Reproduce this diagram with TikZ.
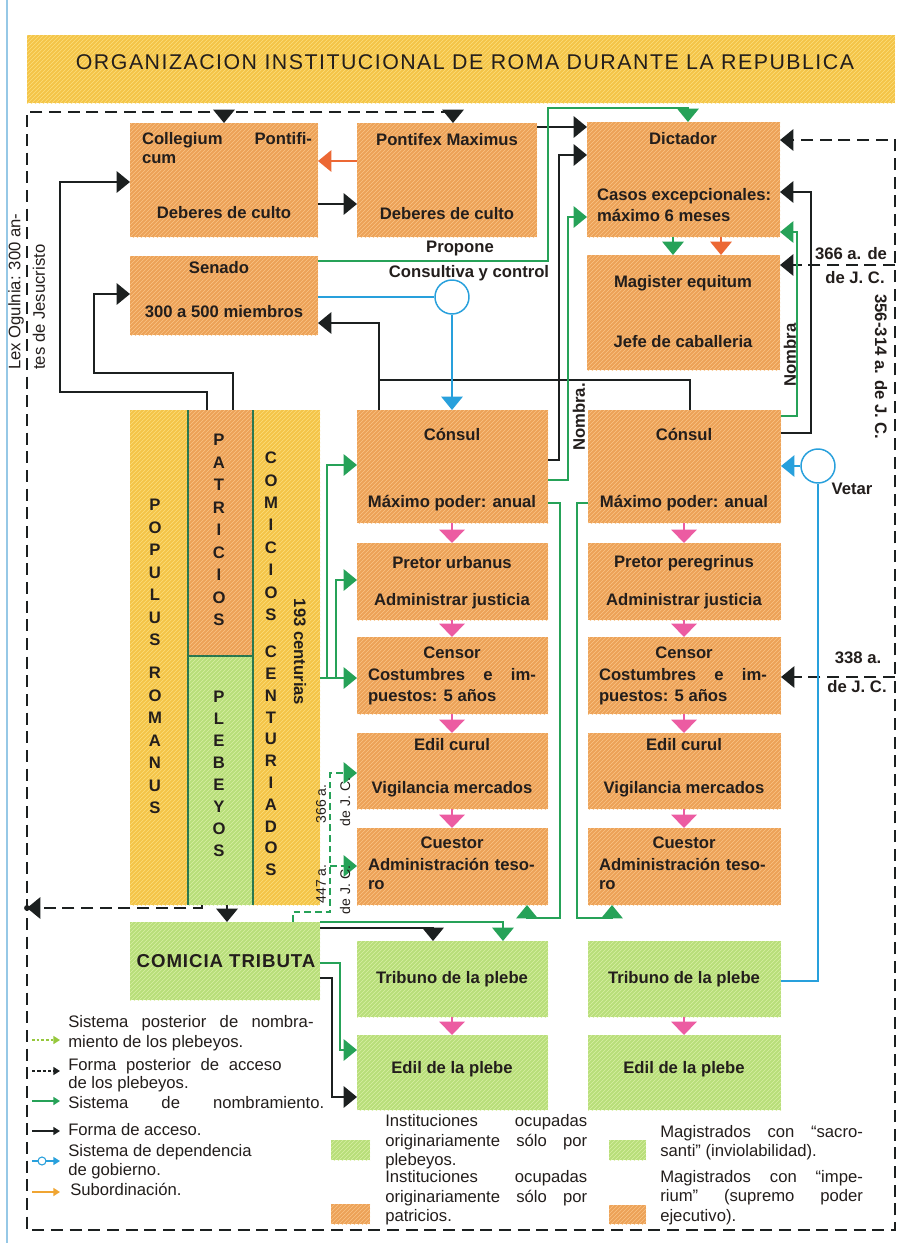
\documentclass[tikz,border=0pt]{standalone}
\usepackage{fontspec}
\setmainfont{Liberation Sans}
\usetikzlibrary{arrows.meta,patterns,fit}
\definecolor{cOr}{RGB}{236,162,88}
\definecolor{cOrH}{RGB}{250,196,134}
\definecolor{cYe}{RGB}{244,196,72}
\definecolor{cYeH}{RGB}{252,222,124}
\definecolor{cGr}{RGB}{184,222,122}
\definecolor{cGrH}{RGB}{216,240,164}
\definecolor{cBk}{RGB}{28,32,32}
\definecolor{cLn}{RGB}{38,162,88}
\definecolor{cYg}{RGB}{150,200,60}
\definecolor{cBl}{RGB}{40,160,220}
\definecolor{cPk}{RGB}{236,92,162}
\definecolor{cOa}{RGB}{236,104,52}
\definecolor{cLeg}{RGB}{240,165,50}
\definecolor{cEdge}{RGB}{150,200,230}
\definecolor{cDg}{RGB}{40,120,80}
\definecolor{cTx}{RGB}{35,30,28}
\begin{document}
\begin{tikzpicture}[x=0.75pt,y=-0.75pt,
  >={Triangle[width=16pt,length=10pt]},
  box/.style={inner sep=0pt, outer sep=0pt, draw=none},
  obox/.style={box, fill=cOr, postaction={pattern=north east lines, pattern color=cOrH}},
  ybox/.style={box, fill=cYe, postaction={pattern=north east lines, pattern color=cYeH}},
  gbox/.style={box, fill=cGr, postaction={pattern=north east lines, pattern color=cGrH}},
  bt/.style={font=\fontsize{12.5}{15}\selectfont\bfseries, text=cTx, inner sep=0pt, outer sep=0pt},
  lt/.style={font=\fontsize{12.5}{15}\selectfont, text=cTx, inner sep=0pt, anchor=west},
  sm/.style={font=\fontsize{10.5}{12}\selectfont, text=cTx, inner sep=0pt},
  vt/.style={font=\fontsize{12.5}{15}\selectfont\bfseries, text=cTx, inner sep=0pt},
  blk/.style={draw=cBk, line width=1.5pt},
  grn/.style={draw=cLn, line width=1.4pt},
  blu/.style={draw=cBl, line width=1.1pt},
  orn/.style={draw=cOa, line width=1.4pt},
  pnk/.style={draw=cPk, line width=1.1pt, -{Triangle[width=19pt,length=10pt]}},
  dsh/.style={draw=cBk, line width=1.5pt, dash pattern=on 9pt off 5pt},
  gdsh/.style={draw=cLn, line width=1.3pt, dash pattern=on 5pt off 3pt},
  circ/.style={circle, draw=cBl, line width=1.1pt, fill=white, minimum size=25.5pt, inner sep=0pt},
  ltip/.style={-{Triangle[width=6pt,length=5pt]}}
]
\useasboundingbox (0,0) rectangle (904,1243);
\fill[white] (0,0) rectangle (904,1243);
\draw[cEdge, line width=0.8pt] (7,0) -- (7,1243);

% ---------- title ----------
\node[ybox, fit={(27,35)(895,103)}] (ban) {};
\node[text=cTx, inner sep=0pt, font=\fontsize{16}{19}\selectfont\addfontfeature{LetterSpace=7}] (title) at (465,62) {ORGANIZACION INSTITUCIONAL DE ROMA DURANTE LA REPUBLICA};

% ---------- boxes ----------
\node[obox, fit={(130,123)(318,237)}] (coll) {};
\node[obox, fit={(357,123)(537,237)}] (pont) {};
\node[obox, fit={(587,122)(780,237)}] (dict) {};
\node[obox, fit={(587,255)(780,370)}] (mag) {};
\node[obox, fit={(130,256)(318,335)}] (sen) {};
\node[ybox, fit={(130,410)(188,905)}] (pop) {};
\node[obox, fit={(188,410)(253,656)}] (pat) {};
\node[gbox, fit={(188,656)(253,905)}] (ple) {};
\node[ybox, fit={(253,410)(320,905)}] (com) {};
\draw[cDg, line width=0.8pt] (pat.north west) -- (ple.south west);
\draw[cDg, line width=0.8pt] (pat.north east) -- (ple.south east);
\draw[cDg, line width=0.8pt] (pat.south west) -- (pat.south east);
\foreach \n/\xa/\xb in {1/357/548,2/588/781}{
  \node[obox, fit={(\xa,410)(\xb,523)}] (con\n) {};
  \node[obox, fit={(\xa,543)(\xb,620)}] (pre\n) {};
  \node[obox, fit={(\xa,637)(\xb,714)}] (cen\n) {};
  \node[obox, fit={(\xa,733)(\xb,809)}] (edc\n) {};
  \node[obox, fit={(\xa,828)(\xb,905)}] (cue\n) {};
  \node[gbox, fit={(\xa,941)(\xb,1017)}] (tri\n) {};
  \node[gbox, fit={(\xa,1035)(\xb,1110)}] (edp\n) {};
}
\node[gbox, fit={(130,922)(320,1000)}] (trib) {};

% ---------- box texts ----------
\node[bt,anchor=west] (collA) at (142,140) {\hbox to 127.5pt{Collegium\hfill Pontifi-}};
\node[bt,anchor=west] (collB) at (142,159) {cum};
\node[bt] (collC) at (224,213) {Deberes de culto};
\node[bt] (pontA) at (447,140) {Pontifex Maximus};
\node[bt] (pontB) at (447,214) {Deberes de culto};
\node[bt] (dictA) at (683,139) {Dictador};
\node[bt,anchor=west] (dictB) at (597,196) {Casos excepcionales:};
\node[bt,anchor=west] (dictC) at (597,215) {máximo 6 meses};
\node[bt] (magA) at (683,283) {Magister equitum};
\node[bt] (magB) at (683,342) {Jefe de caballeria};
\node[bt] (senA) at (219,268) {Senado};
\node[bt] (senB) at (224,312) {300 a 500 miembros};
\foreach \n/\cx/\lx in {1/452/368,2/684/599}{
  \node[bt] (conT\n) at (\cx,434) {Cónsul};
  \node[bt] (conB\n) at (\cx,503) {Máximo poder: anual};
  \node[bt] (preB\n) at (\cx,601) {Administrar justicia};
  \node[bt] (cenT\n) at (\cx,653) {Censor};
  \node[bt,anchor=west] (cenM\n) at (\lx,675) {\hbox to 126pt{Costumbres\hfill e\hfill im-}};
  \node[bt,anchor=west] (cenB\n) at (\lx,697) {puestos: 5 años};
  \node[bt] (edcT\n) at (\cx,745) {Edil curul};
  \node[bt] (edcB\n) at (\cx,789) {Vigilancia mercados};
  \node[bt] (cueT\n) at (\cx,843) {Cuestor};
  \node[bt,anchor=west] (cueM\n) at (\lx,864) {\hbox to 125pt{Administración\hfill teso-}};
  \node[bt,anchor=west] (cueB\n) at (\lx,885) {ro};
  \node[bt] (triT\n) at (\cx,979) {Tribuno de la plebe};
  \node[bt] (edpT\n) at (\cx,1069) {Edil de la plebe};
}
\node[bt] (preT1) at (452,563) {Pretor urbanus};
\node[bt] (preT2) at (684,563) {Pretor peregrinus};
\node[bt, font=\fontsize{14}{16}\selectfont\bfseries\addfontfeature{LetterSpace=5}] (tribT) at (226,961) {COMICIA TRIBUTA};

% vertical letters
\foreach \l [count=\i from 0] in {P,O,P,U,L,U,S} \node[vt] (popA\i) at (155,{505+22.5*\i}) {\l};
\foreach \l [count=\i from 0] in {R,O,M,A,N,U,S} \node[vt] (popB\i) at (155,{673+22.5*\i}) {\l};
\foreach \l [count=\i from 0] in {P,A,T,R,I,C,I,O,S} \node[vt] (patL\i) at (219,{440+22.5*\i}) {\l};
\foreach \l [count=\i from 0] in {P,L,E,B,E,Y,O,S} \node[vt] (pleL\i) at (219,{697+21.9*\i}) {\l};
\foreach \l [count=\i from 0] in {C,O,M,I,C,I,O,S} \node[vt] (comA\i) at (271,{458+22.4*\i}) {\l};
\foreach \l [count=\i from 0] in {C,E,N,T,U,R,I,A,D,O,S} \node[vt] (comB\i) at (271,{652+21.8*\i}) {\l};
\node[bt,rotate=-90] (l193) at (300,652) {193 centurias};

% ---------- outer dashed frame ----------
\coordinate (fT) at (453,112);
\coordinate (fTL) at (27,112);
\coordinate (fBL) at (27,1230);
\coordinate (fBR) at (895,1230);
\coordinate (fR) at (895,140);
\coordinate (fL) at (27,908);
\draw[dsh,->] (fT) -- (fTL) -- (fBL) -- (fBR) -- (fR) -- (dict.east |- fR);
\draw[dsh,->] (224,112) -- (coll.north -| 224,0);
\draw[dsh,->] (fT) -- (pont.north -| fT);
\draw[dsh,->] (895,265) -- (mag.east |- 0,265);
\draw[dsh,->] (895,677) -- (cen2.east |- 0,677);
\draw[dsh,->] (ple.south -| 202,0) |- (fL);
\fill[cBk] (fL) circle (2.2pt);

% ---------- black connectors ----------
\draw[blk,->] (coll.east |- 0,204) -- (pont.west |- 0,204);
\draw[blk,->] (pont.east |- 0,127) -- (dict.west |- 0,127);
\draw[blk,->] (pat.north -| 207,0) |- (60,392) |- (coll.west |- 0,182);
\draw[blk,->] (pat.north -| 233,0) |- (94,373) |- (sen.west |- 0,294);
\draw[blk,->] (con1.north -| 379,0) |- (sen.east |- 0,323);
\coordinate (jA) at (379,380);
\draw[blk] (con2.north -| 690,0) |- (jA);
\draw[blk,->] (con1.east |- 0,460) -| (559,155) -- (dict.west |- 0,155);
\draw[blk,->] (con2.east |- 0,433) -| (811,192) -- (dict.east |- 0,192);
\draw[blk,->] (ple.south -| 227,0) -- (trib.north -| 227,0);
\draw[blk,->] (trib.east |- 0,928) -| (tri1.north -| 433,0);
\draw[blk,->] (trib.east |- 0,978) -| (332,1097) -- (edp1.west |- 0,1097);

% ---------- orange ----------
\draw[orn,->] (pont.west |- 0,161) -- (coll.east |- 0,161);
\draw[orn,->] (dict.south -| 721,0) -- (mag.north -| 721,0);

% ---------- green connectors ----------
\draw[grn,->] (sen.east |- 0,261) -| (548,108) -| (dict.north -| 688,0);
\draw[grn,->] (con2.east |- 0,416) -| (797,232) -- (dict.east |- 0,232);
\draw[grn,->] (con1.east |- 0,480) -| (568,217) -- (dict.west |- 0,217);
\draw[grn,->] (dict.south -| 673,0) -- (mag.north -| 673,0);
\draw[grn,->] (con1.east |- 0,503) -| (560,918) -| (cue1.south -| 527,0);
\draw[grn,->] (con2.west |- 0,503) -| (577,918) -| (cue2.south -| 612,0);
\coordinate (jB) at (327,678);
\coordinate (jC) at (336,678);
\draw[grn,->] (com.east |- 0,678) -- (cen1.west |- 0,678);
\draw[grn,->] (jB) |- (con1.west |- 0,465);
\draw[grn,->] (jC) |- (pre1.west |- 0,580);
\draw[grn,->] (trib.east |- 0,922) -| (tri1.north -| 503,0);
\draw[grn,->] (trib.east |- 0,963) -| (340,1050) -- (edp1.west |- 0,1050);
\coordinate (jD) at (330,866);
\draw[gdsh,->] (trib.north -| 293,0) |- (330,912) -- (330,773) -- (edc1.west |- 0,773);
\draw[gdsh,->] (jD) -- (cue1.west |- 0,866);

% ---------- pink ----------
\foreach \n/\cx in {1/452,2/684}{
  \draw[pnk] (con\n.south -| \cx,0) -- (pre\n.north -| \cx,0);
  \draw[pnk] (pre\n.south -| \cx,0) -- (cen\n.north -| \cx,0);
  \draw[pnk] (cen\n.south -| \cx,0) -- (edc\n.north -| \cx,0);
  \draw[pnk] (edc\n.south -| \cx,0) -- (cue\n.north -| \cx,0);
  \draw[pnk] (tri\n.south -| \cx,0) -- (edp\n.north -| \cx,0);
}

% ---------- blue ----------
\node[circ] (cc) at (452,297) {};
\draw[blu] (sen.east |- cc) -- (cc.west);
\draw[blu,->] (cc.south) -- (con1.north -| cc);
\node[circ] (cv) at (818,466) {};
\draw[blu] (tri2.east |- 0,981) -| (cv.south);
\draw[blu,->] (cv.west) -- (con2.east |- cv);

% ---------- connector labels ----------
\node[bt] (lProp) at (460,248) {Propone};
\node[bt] (lCons) at (469,273) {Consultiva y control};
\node[bt] (lVet) at (852,489) {Vetar};
\node[bt,rotate=90] (lNom2) at (790,355) {Nombra};
\node[bt,rotate=90] (lNom1) at (579,417) {Nombra.};
\node[bt] (l366a) at (851,254) {366 a. de};
\node[bt] (l366b) at (855,278) {de J. C.};
\node[bt,rotate=-90] (l356) at (881,367) {356-314 a. de J. C.};
\node[bt] (l338a) at (858,658) {338 a.};
\node[bt] (l338b) at (857,687) {de J. C.};
\node[lt,rotate=90] (lLex1) at (16,370) {Lex Ogulnia: 300 an-};
\node[lt,rotate=90] (lLex2) at (39,370) {tes de Jesucristo};
\node[sm,rotate=90] (l447a) at (321,884) {447 a.};
\node[sm,rotate=90] (l447b) at (345,890) {de J. C.};
\node[sm,rotate=90] (l366c) at (321,804) {366 a.};
\node[sm,rotate=90] (l366d) at (345,802) {de J. C.};

% ---------- legend ----------
\coordinate (g1a) at (32,1040); \coordinate (g1b) at (60,1040);
\coordinate (g2a) at (32,1071); \coordinate (g2b) at (60,1071);
\coordinate (g3a) at (32,1101); \coordinate (g3b) at (60,1101);
\coordinate (g4a) at (32,1131); \coordinate (g4b) at (60,1131);
\coordinate (g5a) at (32,1161); \coordinate (g5b) at (60,1161);
\coordinate (g6a) at (32,1192); \coordinate (g6b) at (60,1192);
\draw[draw=cYg, line width=1.2pt, dash pattern=on 2pt off 1.5pt, ltip] (g1a) -- (g1b);
\draw[draw=cBk, line width=1pt, dash pattern=on 2.5pt off 1.5pt, ltip] (g2a) -- (g2b);
\draw[draw=cLn, line width=1.2pt, ltip] (g3a) -- (g3b);
\draw[draw=cBk, line width=1.1pt, ltip] (g4a) -- (g4b);
\draw[draw=cBl, line width=1pt, ltip] (g5a) -- (g5b);
\node[circle, draw=cBl, line width=0.8pt, fill=white, minimum size=6pt, inner sep=0pt] (g5c) at (42,1161) {};
\draw[draw=cLeg, line width=1.2pt, ltip] (g6a) -- (g6b);

\node[lt] (t1a) at (68,1023) {\hbox to 184pt{Sistema\hfill posterior\hfill de\hfill nombra-}};
\node[lt] (t1b) at (68,1043) {miento de los plebeyos.};
\node[lt] (t2a) at (68,1066) {\hbox to 160pt{Forma\hfill posterior\hfill de\hfill acceso}};
\node[lt] (t2b) at (68,1084) {de los plebeyos.};
\node[lt] (t3) at (68,1103) {\hbox to 192pt{Sistema\hfill de\hfill nombramiento.}};
\node[lt] (t4) at (68,1130) {Forma de acceso.};
\node[lt] (t5a) at (68,1152) {Sistema de dependencia};
\node[lt] (t5b) at (68,1171) {de gobierno.};
\node[lt] (t6) at (70,1189) {Subordinación.};

\node[gbox, fit={(331,1140)(370,1160)}] (sw1) {};
\node[obox, fit={(331,1204)(370,1224)}] (sw2) {};
\node[gbox, fit={(609,1140)(646,1160)}] (sw3) {};
\node[obox, fit={(609,1205)(646,1224)}] (sw4) {};

\node[lt] (m1a) at (385,1122) {\hbox to 151.5pt{Instituciones\hfill ocupadas}};
\node[lt] (m1b) at (385,1142) {\hbox to 151.5pt{originariamente\hfill sólo\hfill por}};
\node[lt] (m1c) at (385,1161) {plebeyos.};
\node[lt] (m2a) at (385,1178) {\hbox to 151.5pt{Instituciones\hfill ocupadas}};
\node[lt] (m2b) at (385,1198) {\hbox to 151.5pt{originariamente\hfill sólo\hfill por}};
\node[lt] (m2c) at (385,1217) {patricios.};

\node[lt] (r1a) at (660,1133) {\hbox to 152pt{Magistrados\hfill con\hfill “sacro-}};
\node[lt] (r1b) at (660,1152) {santi” (inviolabilidad).};
\node[lt] (r2a) at (660,1178) {\hbox to 152pt{Magistrados\hfill con\hfill “impe-}};
\node[lt] (r2b) at (660,1197) {\hbox to 152pt{rium”\hfill (supremo\hfill poder}};
\node[lt] (r2c) at (660,1217) {ejecutivo).};
\end{tikzpicture}
\end{document}
